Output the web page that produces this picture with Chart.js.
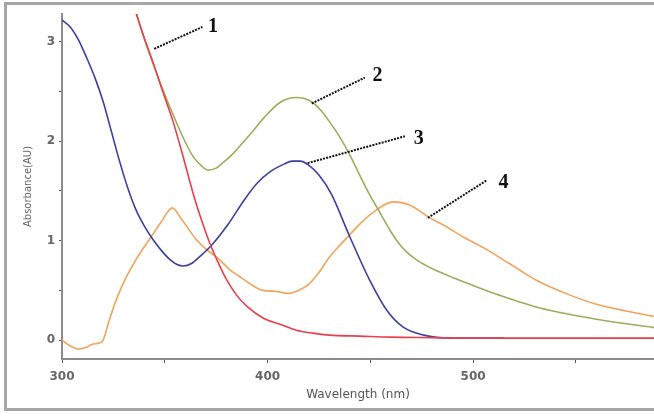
<!DOCTYPE html>
<html>
<head>
<meta charset="utf-8">
<script src="https://cdn.jsdelivr.net/npm/chart.js@4/dist/chart.umd.min.js"></script>
<style>
  html, body { margin: 0; padding: 0; background: #fff; }
  #wrap { width: 654px; height: 418px; position: relative; }
</style>
</head>
<body>
<div id="wrap"><canvas id="c" width="654" height="418"></canvas></div>
<script>
// UV-Vis absorption spectra, wavelength (nm) vs absorbance (AU)
const wl1  = [335, 340, 344, 349, 354, 359, 364, 368, 372, 376, 380, 385, 390, 398, 406, 414, 422, 430, 445, 460, 480, 500, 540, 590];
const abs1 = [3.36, 3.04, 2.81, 2.50, 2.20, 1.84, 1.46, 1.20, 0.97, 0.78, 0.61, 0.45, 0.34, 0.22, 0.16, 0.10, 0.07, 0.05, 0.04, 0.03, 0.025, 0.02, 0.02, 0.02];

const wl2  = [335, 340, 345, 350, 355, 360, 364, 368, 371, 375, 378, 382, 386, 392, 398, 406, 414, 418, 422, 426, 430, 434, 438, 442, 446, 450, 455, 460, 464, 468, 473, 480, 490, 500, 513, 533, 560, 590];
const abs2 = [3.36, 3.03, 2.74, 2.47, 2.22, 1.99, 1.84, 1.75, 1.71, 1.73, 1.78, 1.85, 1.94, 2.08, 2.23, 2.39, 2.44, 2.43, 2.39, 2.31, 2.20, 2.08, 1.94, 1.78, 1.61, 1.45, 1.27, 1.09, 0.97, 0.88, 0.80, 0.72, 0.63, 0.55, 0.45, 0.32, 0.21, 0.12];

const wl3  = [300, 304, 308, 312, 316, 320, 324, 328, 332, 336, 340, 344, 348, 352, 356, 359, 363, 367, 373, 381, 389, 395, 401, 408, 412, 416, 420, 425, 431, 440, 450, 458, 466, 476, 489, 515];
const abs3 = [3.22, 3.15, 3.02, 2.84, 2.64, 2.40, 2.10, 1.80, 1.53, 1.31, 1.15, 1.02, 0.91, 0.82, 0.76, 0.745, 0.77, 0.84, 0.96, 1.17, 1.42, 1.58, 1.69, 1.77, 1.80, 1.80, 1.76, 1.66, 1.47, 1.04, 0.59, 0.30, 0.13, 0.05, 0.02, 0.02];

const wl4  = [300, 304, 308, 312, 315, 318, 320, 323, 326.3, 331.2, 336, 343.4, 348, 353.7, 358, 365.4, 371, 376.6, 381, 386.3, 392, 397.6, 404, 410, 415, 420, 425, 430, 435, 440, 446, 453, 461, 469, 479, 487, 495, 505, 513, 523, 531, 545, 560, 575, 590];
const abs4 = [0.00, -0.06, -0.09, -0.07, -0.04, -0.03, 0.00, 0.20, 0.40, 0.63, 0.81, 1.04, 1.18, 1.33, 1.22, 1.01, 0.90, 0.81, 0.72, 0.64, 0.56, 0.50, 0.49, 0.47, 0.50, 0.56, 0.68, 0.83, 0.95, 1.06, 1.19, 1.31, 1.39, 1.36, 1.23, 1.14, 1.04, 0.93, 0.83, 0.70, 0.60, 0.47, 0.36, 0.29, 0.23];

const seriesNames  = ['1', '2', '3', '4'];
const seriesColors = ['#e8404c', '#9cae5c', '#3f3fa0', '#f2a45a'];

const xTicks = [300, 350, 400, 450, 500, 550];
const xLabeled = [300, 400, 500];
const yTicks = [0, 0.5, 1, 1.5, 2, 2.5, 3];
const yLabeled = [0, 1, 2, 3];

// Curve callouts: leader line from a point on the curve to the number label
const callouts = [
  { text: '1', from: [344.9, 2.93], to: [368.3, 3.15], at: [373.5, 3.15] },
  { text: '2', from: [421.5, 2.38], to: [447.3, 2.64], at: [453.5, 2.66] },
  { text: '3', from: [419.5, 1.78], to: [466.8, 2.05], at: [473.5, 2.02] },
  { text: '4', from: [478.0, 1.23], to: [506.8, 1.61], at: [514.8, 1.58] }
];

const pairs = (xs, ys) => xs.map((x, i) => ({ x: x, y: ys[i] }));
const seriesData = [pairs(wl1, abs1), pairs(wl2, abs2), pairs(wl3, abs3), pairs(wl4, abs4)];

const framePlugin = {
  id: 'frame',
  beforeDraw(chart) {
    const ctx = chart.ctx;
    ctx.save();
    ctx.fillStyle = '#ffffff';
    ctx.fillRect(0, 0, chart.width, chart.height);
    ctx.restore();
  },
  afterDraw(chart) {
    const ctx = chart.ctx;
    ctx.save();
    ctx.strokeStyle = '#a6a6a6';
    ctx.lineWidth = 3;
    ctx.beginPath();
    ctx.moveTo(chart.width, 3.5);
    ctx.lineTo(5.5, 3.5);
    ctx.lineTo(5.5, 409.5);
    ctx.lineTo(chart.width, 409.5);
    ctx.stroke();
    ctx.restore();
  }
};

const calloutPlugin = {
  id: 'callouts',
  afterDatasetsDraw(chart) {
    const ctx = chart.ctx;
    const xs = chart.scales.x, ys = chart.scales.y;
    ctx.save();
    ctx.strokeStyle = '#111';
    ctx.lineWidth = 2;
    ctx.setLineDash([2, 1.2]);
    ctx.fillStyle = '#111';
    ctx.font = 'bold 20px "Liberation Serif", "DejaVu Serif", serif';
    ctx.textAlign = 'center';
    ctx.textBaseline = 'middle';
    callouts.forEach(c => {
      ctx.beginPath();
      ctx.moveTo(xs.getPixelForValue(c.from[0]), ys.getPixelForValue(c.from[1]));
      ctx.lineTo(xs.getPixelForValue(c.to[0]), ys.getPixelForValue(c.to[1]));
      ctx.stroke();
      ctx.fillText(c.text, xs.getPixelForValue(c.at[0]), ys.getPixelForValue(c.at[1]));
    });
    ctx.restore();
  }
};

new Chart(document.getElementById('c'), {
  type: 'line',
  data: {
    datasets: seriesData.map((d, i) => ({
      label: seriesNames[i],
      data: d,
      borderColor: seriesColors[i],
      backgroundColor: seriesColors[i],
      borderWidth: 1.6,
      pointRadius: 0,
      cubicInterpolationMode: 'monotone',
      fill: false
    }))
  },
  options: {
    responsive: false,
    animation: false,
    layout: { padding: { top: 14, right: 0, bottom: 0, left: 0 } },
    plugins: {
      legend: { display: false },
      tooltip: { enabled: false }
    },
    scales: {
      x: {
        type: 'linear',
        min: 300,
        max: 588,
        afterBuildTicks: s => { s.ticks = xTicks.map(v => ({ value: v })); },
        afterFit: s => { s.height = 59; },
        border: { display: true, color: '#8c8c8c', width: 2 },
        grid: { display: true, drawOnChartArea: false, drawTicks: true, tickLength: 4, color: '#555' },
        ticks: {
          autoSkip: false,
          maxRotation: 0,
          padding: 7,
          color: '#666',
          font: { family: 'DejaVu Sans', size: 12, weight: 'bold' },
          callback: v => (xLabeled.includes(v) ? String(v) : '')
        },
        title: {
          display: true,
          text: 'Wavelength (nm)',
          color: '#555',
          font: { family: 'DejaVu Sans', size: 12 },
          padding: { top: 0, bottom: 16 }
        }
      },
      y: {
        type: 'linear',
        min: -0.19,
        max: 3.28,
        afterBuildTicks: s => { s.ticks = yTicks.map(v => ({ value: v })); },
        afterFit: s => { s.width = 62; },
        border: { display: true, color: '#8c8c8c', width: 2 },
        grid: { display: true, drawOnChartArea: false, drawTicks: true, tickLength: 3, color: '#555' },
        ticks: {
          autoSkip: false,
          padding: 4,
          color: '#666',
          font: { family: 'DejaVu Sans', size: 12, weight: 'bold' },
          callback: v => (yLabeled.includes(v) ? String(v) : '')
        },
        title: {
          display: true,
          text: 'Absorbance(AU)',
          color: '#666',
          font: { family: 'DejaVu Sans', size: 10 },
          padding: { top: 22, bottom: 0 }
        }
      }
    }
  },
  plugins: [framePlugin, calloutPlugin]
});
</script>
</body>
</html>
